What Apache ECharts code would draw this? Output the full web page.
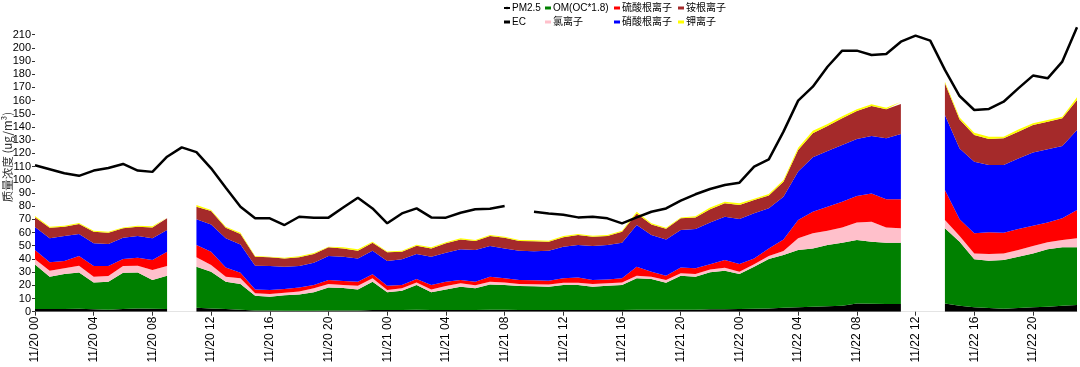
<!DOCTYPE html>
<html>
<head>
<meta charset="utf-8">
<script src="https://cdn.jsdelivr.net/npm/echarts@6/dist/echarts.min.js"></script>
<style>html,body{margin:0;padding:0;background:#fff}#c{width:1080px;height:367px}</style>
</head>
<body>
<div id="c"></div>
<script>
var categories = [
'11/20 00','11/20 01','11/20 02','11/20 03','11/20 04','11/20 05','11/20 06','11/20 07','11/20 08','11/20 09','11/20 10','11/20 11',
'11/20 12','11/20 13','11/20 14','11/20 15','11/20 16','11/20 17','11/20 18','11/20 19','11/20 20','11/20 21','11/20 22','11/20 23',
'11/21 00','11/21 01','11/21 02','11/21 03','11/21 04','11/21 05','11/21 06','11/21 07','11/21 08','11/21 09','11/21 10','11/21 11',
'11/21 12','11/21 13','11/21 14','11/21 15','11/21 16','11/21 17','11/21 18','11/21 19','11/21 20','11/21 21','11/21 22','11/21 23',
'11/22 00','11/22 01','11/22 02','11/22 03','11/22 04','11/22 05','11/22 06','11/22 07','11/22 08','11/22 09','11/22 10','11/22 11',
'11/22 12','11/22 13','11/22 14','11/22 15','11/22 16','11/22 17','11/22 18','11/22 19','11/22 20','11/22 21','11/22 22','11/22 23'
];
var yTicks = [0,10,20,30,40,50,60,70,80,90,100,110,120,130,140,150,160,170,180,190,200,210];
var yName = '质量浓度 (ug/m³)';

var pm25 = [111,108,105,103,107,109,112,107,106,117.5,124.6,121,108.7,94,79.6,70.8,70.8,65.7,72,71.3,71.3,79,86.4,78.3,
67,74.5,78.3,71.5,71.3,75,77.6,78,80.1,null,75.8,74.5,73.5,71.5,72,70.8,67,71.5,75.8,78.3,84.2,89,93,96,
97.8,110,115.5,136.5,160,170.6,185.7,197.9,197.9,194.6,195.4,204.7,209.3,205.5,183.3,163.5,152.9,153.7,159.2,169.3,179,176.9,189.6,215.6];

var ec = [2,2,2,2.3,1.8,1.5,2,2.5,2.3,2,null,3,2.5,2,1.5,1,1,0.8,0.8,0.8,1,1,1,1.2,
1.2,1.2,1.5,1.2,1.2,1.2,1.2,1.5,1.5,1.2,1.2,1.2,1.2,1.2,1.2,1.2,1.2,1.5,1.5,1.5,1.5,1.5,1.8,1.8,
2,2.3,2.5,3,3.3,3.8,4.2,4.6,6.3,6,5.8,5.8,null,null,6.3,4.5,3.3,2.8,2.3,2.8,3.3,3.8,4.5,5];

var om = [33.8,24.5,26.6,27.5,20.4,21.2,27.6,27.3,21.7,25.3,null,31.1,27.8,20.7,19.5,11.1,10.4,11.6,12.3,13.9,17.4,16.9,15.9,21.5,
13.5,14.7,18.7,13.5,15.7,17.8,16.5,19.2,18.7,18.3,18.0,17.8,19.0,19.0,17.8,18.5,19.0,23.8,23.3,20.5,25.8,25.0,28.2,29.3,
26.6,31.8,37.4,40.0,43.5,44.2,46.3,47.7,48.0,47.1,46.5,46.5,null,null,56.9,48.6,36.4,35.9,36.9,38.9,40.9,43.5,44.3,43.8];

var cl = [4.0,4.5,4.3,5.1,4.3,4.3,5.0,5.1,7.6,7.3,null,7.1,5.1,3.8,4.3,1.8,2.0,2.0,2.3,3.0,2.6,2.3,2.8,2.6,
1.7,1.8,2.0,2.2,2.6,2.5,2.3,2.0,2.0,1.5,1.6,1.7,1.8,1.8,2.0,1.8,2.0,2.0,1.7,2.0,1.8,2.1,1.9,2.3,
1.7,1.8,2.3,3.0,8.8,11.4,10.9,11.6,13.4,15.1,11.6,10.9,null,null,6.3,4.3,4.5,5.0,5.0,5.1,5.6,5.3,5.5,6.8];

var so4 = [7.0,6.4,5.5,7.3,8.1,7.6,5.3,6.0,7.6,10.9,null,9.3,10.1,7.1,4.3,3.0,3.0,2.8,3.0,2.5,3.0,3.0,3.0,3.0,
3.3,2.5,2.6,3.3,3.2,2.5,2.7,3.8,3.1,3.0,3.1,2.8,3.3,4.0,3.0,3.0,3.1,6.8,3.8,3.3,4.5,4.3,4.1,5.8,
5.8,4.5,5.8,8.8,13.9,16.4,18.2,19.5,20.0,21.5,21.3,22.0,null,null,22.7,12.6,15.2,16.5,15.7,15.9,15.4,15.1,16.5,21.5];

var no3 = [17.4,18.2,19.0,16.7,17.2,16.7,16.2,16.5,16.4,16.4,null,19.5,20.7,22.0,21.4,18.0,18.2,16.9,16.2,16.9,18.2,18.5,17.7,17.9,
18.7,19.5,18.9,21.5,22.0,23.3,24.1,23.3,22.7,22.2,22.0,22.7,24.0,24.5,25.8,26.0,27.0,31.6,27.8,27.5,28.3,29.8,31.6,32.8,
34.2,34.2,30.4,32.4,36.7,41.2,42.2,43.0,43.2,43.5,46.2,49.5,null,null,56.9,53.8,54.3,51.0,51.3,53.5,55.4,55.4,54.8,60.6];

var nh4 = [7.4,8.1,7.0,7.6,8.9,8.6,7.1,7.0,8.3,8.9,null,9.6,10.1,8.1,7.9,6.8,6.6,6.3,6.6,6.6,6.6,6.3,5.8,6.1,
6.6,5.8,6.3,6.3,7.1,7.5,6.8,7.6,8.1,7.4,7.5,6.9,7.1,7.6,7.1,6.9,8.4,8.8,8.1,8.1,8.9,8.8,10.1,10.2,
10.6,10.1,9.6,11.4,16.4,18.2,19.0,20.2,21.2,22.7,22.0,22.8,null,null,24.0,22.0,20.2,19.7,20.2,20.3,20.9,20.9,21.0,22.8];

var k = [1.0,0.7,0.8,0.7,0.7,0.8,0.7,0.8,0.8,0.7,null,1.3,0.8,0.7,1.0,0.5,0.5,0.5,0.8,0.8,0.5,0.8,1.1,0.8,
0.7,0.7,0.8,0.8,0.8,0.8,0.7,0.7,0.8,0.7,0.7,0.7,1.0,0.8,0.7,0.7,0.7,1.3,0.8,0.8,0.7,0.8,1.3,1.2,
1.3,1.0,1.2,1.2,1.7,2.0,1.5,1.5,1.3,1.3,1.2,1.5,null,null,1.3,1.5,1.8,1.8,1.3,1.7,1.3,1.3,1.2,2.0];

var FONT = '"Liberation Sans", Arial, "Noto Sans CJK SC", sans-serif';

function area(name, data, color) {
  return {
    name: name, type: 'line', stack: 'total', data: data,
    symbol: 'none', showSymbol: false, connectNulls: false,
    lineStyle: { width: 0, color: color },
    itemStyle: { color: color },
    areaStyle: { color: color, opacity: 1 },
    emphasis: { disabled: true },
    z: 2
  };
}

function legend(left, items) {
  return {
    orient: 'vertical', left: left, top: 2, padding: 0,
    itemWidth: 6, itemHeight: 3, itemGap: 2,
    selectedMode: false,
    textStyle: { fontSize: 10, lineHeight: 12, color: '#000', fontFamily: FONT, padding: [0, 0, 0, -3] },
    data: items
  };
}

var chart = echarts.init(document.getElementById('c'), null, { renderer: 'canvas' });
chart.setOption({
  animation: false,
  backgroundColor: '#fff',
  graphic: [{
    type: 'text', x: 8, y: 157, rotation: Math.PI / 2, z: 10,
    style: {
      text: yName, fontSize: 11.5, fill: '#333',
      fontFamily: '"Noto Sans CJK SC", "DejaVu Sans", sans-serif',
      textAlign: 'center', textVerticalAlign: 'middle'
    }
  }],
  legend: [
    legend(503, [{ name: 'PM2.5' }, { name: 'EC', icon: 'rect' }]),
    legend(545, [{ name: 'OM(OC*1.8)', icon: 'rect' }, { name: '氯离子', icon: 'rect' }]),
    legend(614, [{ name: '硫酸根离子', icon: 'rect' }, { name: '硝酸根离子', icon: 'rect' }]),
    legend(678, [{ name: '铵根离子', icon: 'rect' }, { name: '钾离子', icon: 'rect' }])
  ],
  grid: { left: 35, top: 21.5, width: 1042, height: 290.2, containLabel: false, outerBoundsMode: 'none' },
  xAxis: {
    type: 'category', data: categories, boundaryGap: false,
    axisLine: { show: true, lineStyle: { color: '#e4e4e4', width: 1 } },
    axisTick: { show: true, interval: 3, length: 4, lineStyle: { color: '#333' } },
    axisLabel: { interval: 3, rotate: 90, fontSize: 12, color: '#000', margin: 5, fontFamily: FONT },
    splitLine: { show: false }
  },
  yAxis: {
    type: 'value', min: 0, max: 220, interval: 10,
    axisLine: { show: false },
    axisTick: { show: true, length: 3, customValues: yTicks, lineStyle: { color: '#333' } },
    axisLabel: { fontSize: 11, color: '#000', margin: 4, customValues: yTicks, fontFamily: FONT },
    splitLine: { show: false }
  },
  series: [
    area('EC', ec, '#000000'),
    area('OM(OC*1.8)', om, '#008000'),
    area('氯离子', cl, '#FFC0CB'),
    area('硫酸根离子', so4, '#FF0000'),
    area('硝酸根离子', no3, '#0000FF'),
    area('铵根离子', nh4, '#A52A2A'),
    area('钾离子', k, '#FFFF00'),
    {
      name: 'PM2.5', type: 'line', data: pm25, symbol: 'none', showSymbol: false,
      connectNulls: false,
      lineStyle: { width: 2.5, color: '#000' }, itemStyle: { color: '#000' },
      emphasis: { disabled: true }, z: 5
    }
  ]
});
</script>
</body>
</html>
